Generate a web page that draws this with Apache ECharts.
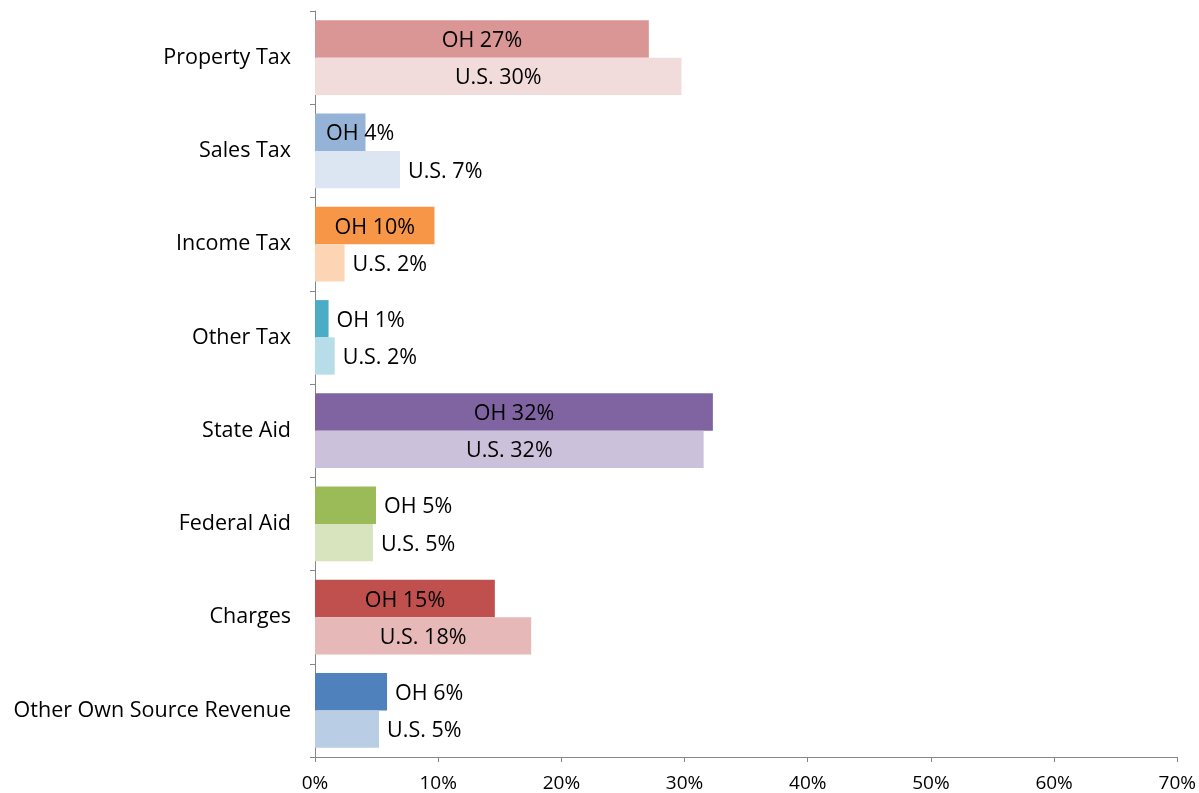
<!DOCTYPE html>
<html>
<head>
<meta charset="utf-8">
<title>Revenue sources: OH vs U.S.</title>
<script src="https://cdn.jsdelivr.net/npm/echarts@6/dist/echarts.min.js"></script>
<style>
  html, body { margin: 0; padding: 0; background: #fff; }
  #chart { width: 1199px; height: 793px; }
</style>
</head>
<body>
<div id="chart"></div>
<script>
// categories, top to bottom
var categories = ['Property Tax', 'Sales Tax', 'Income Tax', 'Other Tax', 'State Aid', 'Federal Aid', 'Charges', 'Other Own Source Revenue'];
// share of revenue, percent
var ohValues = [27.1, 4.1, 9.7, 1.1, 32.3, 4.95, 14.6, 5.85];
var usValues = [29.75, 6.9, 2.4, 1.6, 31.55, 4.7, 17.55, 5.2];
var xTicks = [0, 10, 20, 30, 40, 50, 60, 70];

// bar colours per category (darker = OH, lighter = U.S.)
var ohColors = ['#D99694', '#95B3D7', '#F79646', '#4BACC6', '#8064A2', '#9BBB59', '#C0504D', '#4F81BD'];
var usColors = ['#F2DCDB', '#DCE6F2', '#FCD5B5', '#B7DEE8', '#CCC1DA', '#D7E4BD', '#E6B9B8', '#B9CDE5'];

var FONT = '"Open Sans", "DejaVu Sans", sans-serif';

function buildData(values, colors, prefix) {
    return values.map(function (v, i) {
        var lbl = { show: true, color: '#000', fontFamily: FONT, fontSize: 21.5, offset: [0, 2] };
        if (v >= 9) {
            lbl.position = 'inside';
        } else {
            lbl.position = 'right';
            lbl.distance = 8;
        }
        // Sales Tax OH label sits over the bar start
        if (prefix == 'OH' && i == 1) {
            lbl.position = 'insideLeft';
            lbl.distance = 11;
        }
        return {
            value: v,
            itemStyle: { color: colors[i] },
            label: lbl
        };
    });
}

function fmt(prefix) {
    return function (p) {
        return prefix + ' ' + Math.round(p.value) + '%';
    };
}

var option = {
    animation: false,
    grid: { left: 315, right: 21, top: 11, bottom: 35, containLabel: false },
    xAxis: {
        type: 'value',
        min: xTicks[0],
        max: xTicks[xTicks.length - 1],
        interval: 10,
        splitLine: { show: false },
        axisLine: { show: true, lineStyle: { color: '#868686', width: 1 } },
        axisTick: { show: true, length: 5, lineStyle: { color: '#868686' } },
        axisLabel: {
            formatter: '{value}%',
            color: '#000',
            fontFamily: FONT,
            fontSize: 19,
            margin: 17
        }
    },
    yAxis: {
        type: 'category',
        data: categories,
        inverse: true,
        axisLine: { show: true, lineStyle: { color: '#868686', width: 1 } },
        axisTick: { show: true, length: 5, lineStyle: { color: '#868686' } },
        axisLabel: {
            color: '#000',
            fontFamily: FONT,
            fontSize: 21.5,
            margin: 24
        }
    },
    series: [{
        name: 'OH',
        type: 'bar',
        barGap: 0,
        barCategoryGap: '20%',
        data: buildData(ohValues, ohColors, 'OH'),
        label: { formatter: fmt('OH') }
    }, {
        name: 'U.S.',
        type: 'bar',
        barGap: 0,
        barCategoryGap: '20%',
        data: buildData(usValues, usColors, 'U.S.'),
        label: { formatter: fmt('U.S.') }
    }]
};

var chart = echarts.init(document.getElementById('chart'));
chart.setOption(option);
</script>
</body>
</html>
